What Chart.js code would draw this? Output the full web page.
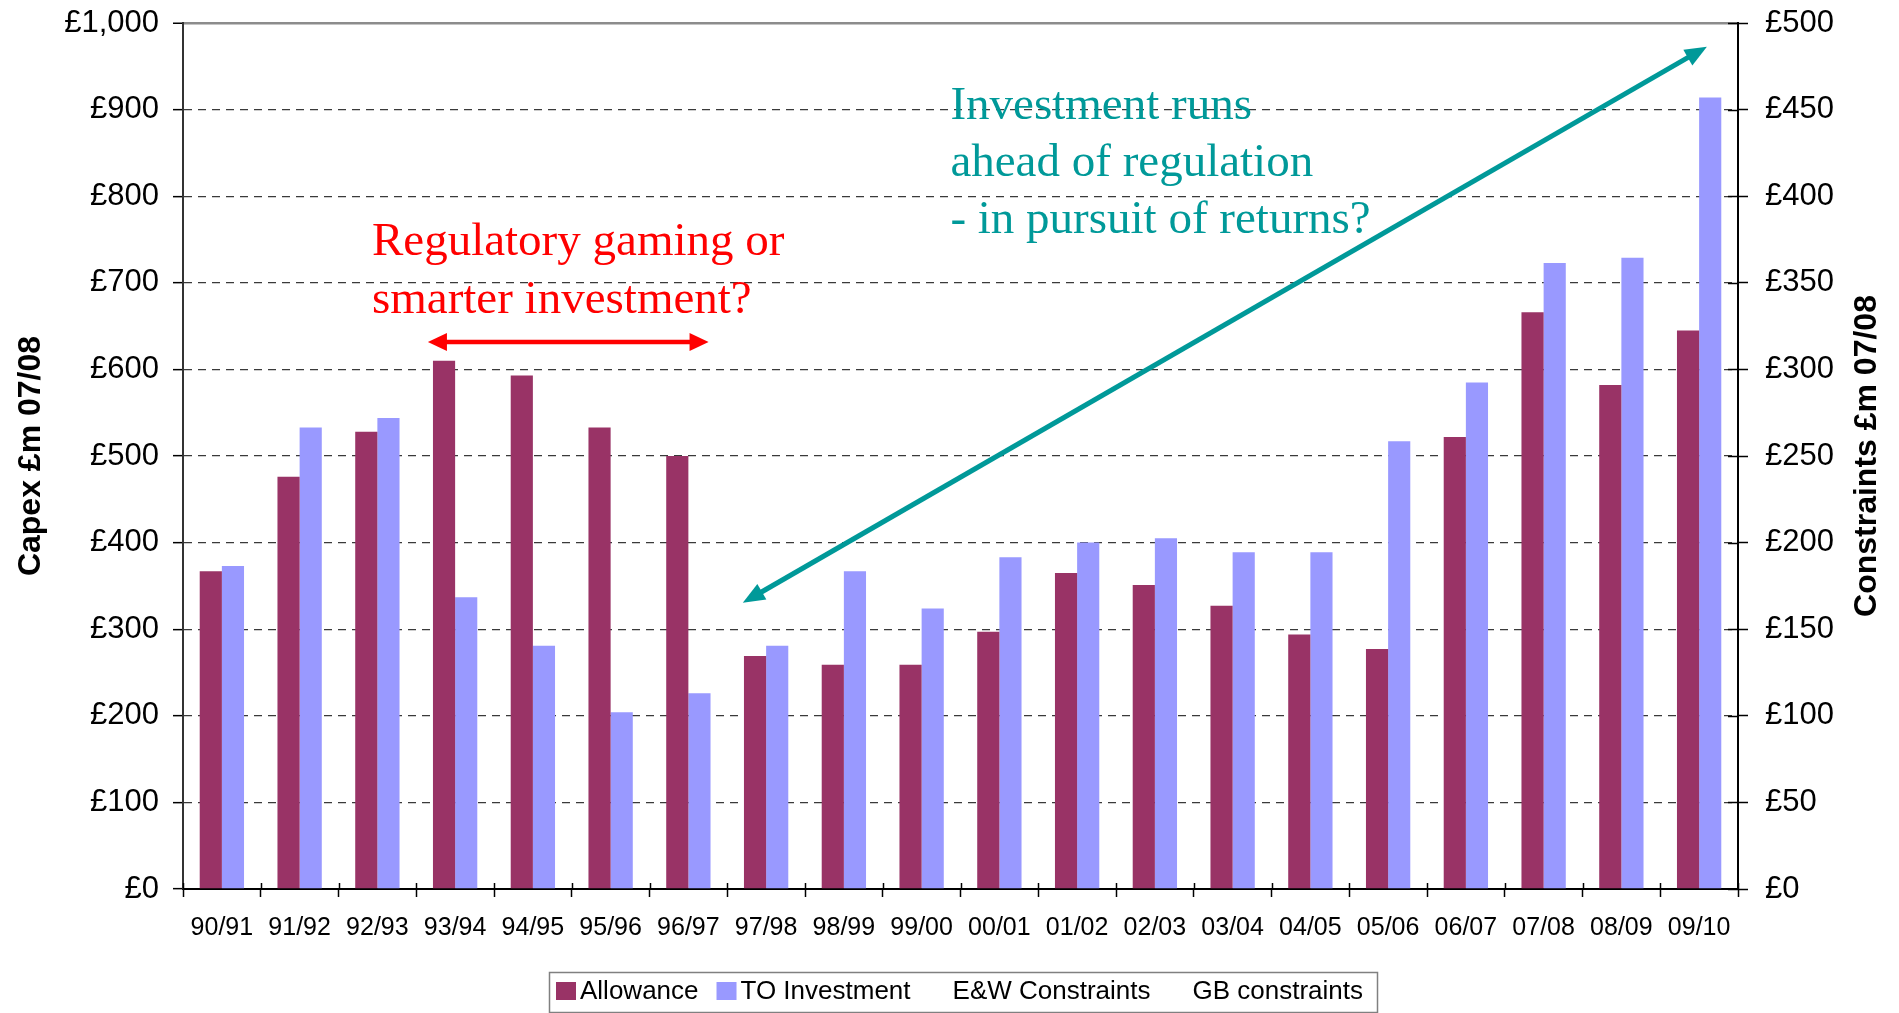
<!DOCTYPE html>
<html><head><meta charset="utf-8">
<script src="https://cdn.jsdelivr.net/npm/chart.js@4.4.0/dist/chart.umd.min.js"></script>
<style>html,body{margin:0;padding:0;background:#fff;overflow:hidden}</style>
</head><body>
<canvas id="c" width="1899" height="1013" style="display:block;width:1899px;height:1013px"></canvas>
<script>
// ---- data ----
const categories = ['90/91','91/92','92/93','93/94','94/95','95/96','96/97','97/98','98/99','99/00','00/01','01/02','02/03','03/04','04/05','05/06','06/07','07/08','08/09','09/10'];
const allowance = [367,476,528,610,593,533,500,269,259,259,297,365,351,327,294,277,522,666,582,645];
const toInvestment = [373,533,544,337,281,204,226,281,367,324,383,400,405,389,389,517,585,723,729,914];
const ewConstraints = [];
const gbConstraints = [];
const capexTicks = [0,100,200,300,400,500,600,700,800,900,1000];
const constraintTicks = [0,50,100,150,200,250,300,350,400,450,500];

// ---- annotations (in data space: category index, capex value) ----
const notes = [
  {color:'#FF0000', lines:['Regulatory gaming or','smarter investment?'], at:1.93, baselines:[732,665]},
  {color:'#009999', lines:['Investment runs','ahead of regulation','- in pursuit of returns?'], at:9.37, baselines:[889,823,757]}
];
const arrows = [
  {color:'#FF0000', from:[2.65,631.5], to:[6.26,631.5], width:4.5, head:[19,18]},
  {color:'#009999', from:[6.70,330.5], to:[19.10,972.7], width:5, head:[22,18]}
];

const SANS = 'Arial, "Liberation Sans", sans-serif';
const SERIF = '"Times New Roman", "Liberation Serif", serif';
const fmt = v => '£' + String(v).replace(/\B(?=(\d{3})+(?!\d))/g, ',');

function drawArrow(ctx, x1, y1, x2, y2, a) {
  const ang = Math.atan2(y2 - y1, x2 - x1);
  const [hl, hw] = a.head;
  const cx = Math.cos(ang), sy = Math.sin(ang);
  ctx.save();
  ctx.strokeStyle = a.color; ctx.fillStyle = a.color; ctx.lineWidth = a.width;
  ctx.beginPath();
  ctx.moveTo(x1 + cx * hl * 0.8, y1 + sy * hl * 0.8);
  ctx.lineTo(x2 - cx * hl * 0.8, y2 - sy * hl * 0.8);
  ctx.stroke();
  const head = (tx, ty, dir) => {
    const bx = tx - dir * cx * hl, by = ty - dir * sy * hl;
    ctx.beginPath();
    ctx.moveTo(tx, ty);
    ctx.lineTo(bx - sy * hw / 2, by + cx * hw / 2);
    ctx.lineTo(bx + sy * hw / 2, by - cx * hw / 2);
    ctx.closePath(); ctx.fill();
  };
  head(x2, y2, 1); head(x1, y1, -1);
  ctx.restore();
}

const extras = {
  id: 'extras',
  afterDraw(chart) {
    const {ctx, chartArea, scales} = chart;
    const x = scales.x, y = scales.y, y1 = scales.y1;
    ctx.save();
    // inner tick marks (x axis: crossing; right axis: crossing)
    ctx.strokeStyle = '#000'; ctx.lineWidth = 1.5;
    for (let i = 0; i <= categories.length; i++) {
      const px = Math.round(x.getPixelForValue(i - 0.5)) + 0.5;
      ctx.beginPath(); ctx.moveTo(px, chartArea.bottom - 6); ctx.lineTo(px, chartArea.bottom); ctx.stroke();
    }
    constraintTicks.forEach(v => {
      const py = Math.round(y1.getPixelForValue(v)) + 0.5;
      ctx.beginPath(); ctx.moveTo(chartArea.right - 10, py); ctx.lineTo(chartArea.right, py); ctx.stroke();
    });
    // right axis title (reads bottom to top)
    ctx.save();
    ctx.translate(1867, (chartArea.top + chartArea.bottom) / 2);
    ctx.rotate(-Math.PI / 2);
    ctx.font = 'bold 32px ' + SANS; ctx.fillStyle = '#000';
    ctx.textAlign = 'center'; ctx.textBaseline = 'middle';
    ctx.fillText('Constraints £m 07/08', 0, 0);
    ctx.restore();
    // arrows
    arrows.forEach(a => drawArrow(ctx,
      x.getPixelForValue(a.from[0]), y.getPixelForValue(a.from[1]),
      x.getPixelForValue(a.to[0]), y.getPixelForValue(a.to[1]), a));
    // notes
    notes.forEach(n => {
      ctx.font = '47px ' + SERIF; ctx.fillStyle = n.color;
      ctx.textAlign = 'left'; ctx.textBaseline = 'alphabetic';
      n.lines.forEach((t, i) => ctx.fillText(t, x.getPixelForValue(n.at), y.getPixelForValue(n.baselines[i])));
    });
    // legend
    const L = {left: 549, top: 972, right: 1377, bottom: 1012};
    ctx.strokeStyle = '#808080'; ctx.lineWidth = 1.5;
    ctx.strokeRect(L.left + 0.5, L.top + 0.5, L.right - L.left, L.bottom - L.top);
    let lx = 556;
    ctx.font = '26px ' + SANS; ctx.textBaseline = 'alphabetic'; ctx.textAlign = 'left';
    chart.data.datasets.forEach(ds => {
      if (ds.type !== 'line') { ctx.fillStyle = ds.backgroundColor; ctx.fillRect(lx, 982, 20, 18); }
      lx += 24;
      ctx.fillStyle = '#000';
      ctx.fillText(ds.label, lx, 999);
      lx += ctx.measureText(ds.label).width + 18;
    });
    ctx.restore();
  }
};

new Chart(document.getElementById('c'), {
  type: 'bar',
  data: {
    labels: categories,
    datasets: [
      {label: 'Allowance', data: allowance, backgroundColor: '#993366', yAxisID: 'y', categoryPercentage: 0.57, barPercentage: 1.0},
      {label: 'TO Investment', data: toInvestment, backgroundColor: '#9999FF', yAxisID: 'y', categoryPercentage: 0.57, barPercentage: 1.0},
      {type: 'line', label: 'E&W Constraints', data: ewConstraints, yAxisID: 'y1', borderColor: 'rgba(0,0,0,0)', backgroundColor: 'rgba(0,0,0,0)'},
      {type: 'line', label: 'GB constraints', data: gbConstraints, yAxisID: 'y1', borderColor: 'rgba(0,0,0,0)', backgroundColor: 'rgba(0,0,0,0)'}
    ]
  },
  options: {
    responsive: false, animation: false, devicePixelRatio: 1,
    layout: {padding: {top: 23, left: 0, right: 0, bottom: 0}},
    plugins: {legend: {display: false}, tooltip: {enabled: false}},
    scales: {
      x: {
        type: 'category', offset: true,
        grid: {offset: true, drawOnChartArea: false, tickLength: 8, tickColor: '#000', tickWidth: 1.5, color: '#000'},
        border: {color: '#000', width: 2},
        ticks: {font: {family: SANS, size: 25}, color: '#000', padding: 16, maxRotation: 0, autoSkip: false},
        afterFit(s) { s.height = 124; s.paddingLeft = 0; s.paddingRight = 0; }
      },
      y: {
        position: 'left', min: 0, max: 1000,
        afterBuildTicks(s) { s.ticks = capexTicks.map(v => ({value: v})); },
        ticks: {callback: fmt, font: {family: SANS, size: 31}, color: '#000', padding: 14},
        grid: {
          color: c => (c.tick && c.tick.value === 1000) ? '#8c8c8c' : '#3a3a3a',
          lineWidth: c => (c.tick && c.tick.value === 1000) ? 2.5 : 1.3,
          tickColor: '#000', tickLength: 10, tickWidth: 1.5
        },
        border: {display: true, color: '#333', width: 2,
          dash: c => (c.tick && (c.tick.value === 1000 || c.tick.value === 0)) ? [] : [8, 6]},
        title: {display: true, text: 'Capex £m 07/08', color: '#000', font: {family: SANS, size: 32, weight: 'bold'}, padding: {top: 12, bottom: 0}},
        afterFit(s) { s.width = 183; s.paddingTop = 0; s.paddingBottom = 0; }
      },
      y1: {
        position: 'right', min: 0, max: 500,
        afterBuildTicks(s) { s.ticks = constraintTicks.map(v => ({value: v})); },
        ticks: {callback: fmt, font: {family: SANS, size: 31}, color: '#000', padding: 17},
        grid: {drawOnChartArea: false, tickColor: '#000', tickLength: 10, tickWidth: 1.5},
        border: {color: '#000', width: 2},
        afterFit(s) { s.width = 161; s.paddingTop = 0; s.paddingBottom = 0; }
      }
    }
  },
  plugins: [extras]
});
</script>
</body></html>
